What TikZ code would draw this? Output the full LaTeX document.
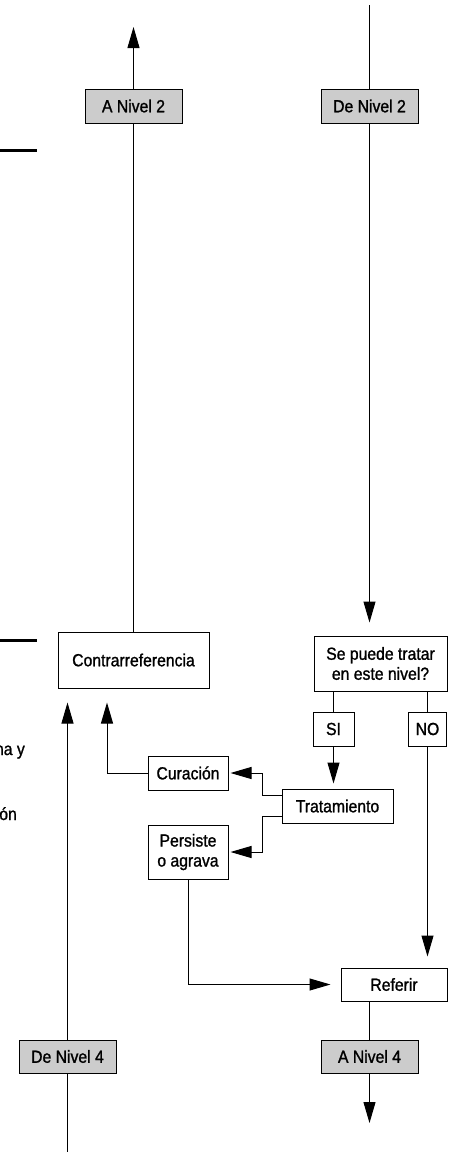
\documentclass[tikz,border=0pt]{standalone}
\usepackage{fontspec}
\setmainfont{Liberation Sans}[FakeStretch=0.9, FakeBold=1.2]
\usetikzlibrary{arrows.meta}
\tikzset{
  box/.style={draw=black, line width=1pt, fill=white, inner sep=0pt, align=center,
    font=\fontsize{17.5}{20}\selectfont},
  graybox/.style={box, fill=black!20},
  conn/.style={draw=black, line width=1pt},
  arr/.style={conn, -{Triangle[length=21pt,width=12pt]}},
  bar/.style={draw=black, line width=3pt},
  frag/.style={inner sep=0pt, font=\fontsize{17.5}{20}\selectfont}
}
\begin{document}
\begin{tikzpicture}[x=1pt,y=-1pt]
\useasboundingbox (0,0) rectangle (451,1152);
% boxes
\node[graybox, minimum width=97pt, minimum height=34pt] (an2) at (133.5,106) {A Nivel 2};
\node[graybox, minimum width=97pt, minimum height=34pt] (den2) at (369.5,106) {De Nivel 2};
\node[box, minimum width=151pt, minimum height=56pt] (contra) at (133.5,660) {Contrarreferencia};
\node[box, minimum width=133pt, minimum height=55pt] (dec) at (380.5,663.5) {Se puede tratar\\en este nivel?};
\node[box, minimum width=41pt, minimum height=34pt] (si) at (333.5,729) {SI};
\node[box, minimum width=38pt, minimum height=34pt] (no) at (427.5,729) {NO};
\node[box, minimum width=80pt, minimum height=34pt] (cur) at (188,773) {Curación};
\node[box, minimum width=111pt, minimum height=34pt] (trat) at (337.5,806) {Tratamiento};
\node[box, minimum width=80pt, minimum height=54pt] (pers) at (188,852) {Persiste\\o agrava};
\node[box, minimum width=106pt, minimum height=33pt] (ref) at (394,984.5) {Referir};
\node[graybox, minimum width=97pt, minimum height=33pt] (an4) at (369.5,1056.5) {A Nivel 4};
\node[graybox, minimum width=97pt, minimum height=33pt] (den4) at (67.5,1056.5) {De Nivel 4};
% free ends
\coordinate (an2tip) at (133.5,27);
\coordinate (top2) at (369.5,5);
\coordinate (an4tip) at (369.5,1123);
\coordinate (bot4) at (67.5,1152);
% connectors
\draw[conn] (contra.north) -- (an2.south);
\draw[arr] (an2.north) -- (an2tip);
\draw[conn] (top2) -- (den2.north);
\draw[arr, shorten >=13pt] (den2.south) -- (den2.south |- dec.north);
\draw[conn] (si.north |- dec.south) -- (si.north);
\draw[arr, shorten >=5pt] (si.south) -- (si.south |- trat.north);
\draw[conn] (no.north |- dec.south) -- (no.north);
\draw[arr, shorten >=11pt] (no.south) -- (no.south |- ref.north);
\draw[arr, shorten >=2pt] ([yshift=11pt]trat.west) -- ++(-19,0) |- (cur.east);
\draw[arr, shorten >=2pt] ([yshift=-10pt]trat.west) -- ++(-19,0) |- (pers.east);
\draw[arr, shorten >=14pt] (cur.west) -| ([xshift=-26.5pt]contra.south);
\draw[arr, shorten >=10pt] (pers.south) |- (ref.west);
\draw[conn] (ref.south -| an4.north) -- (an4.north);
\draw[arr] (an4.south) -- (an4tip);
\draw[conn] (bot4) -- (den4.south);
\draw[arr, shorten >=14pt] (den4.north) -- (den4.north |- contra.south);
% side bars and text fragments
\draw[bar] (0,150) -- (37,150);
\draw[bar] (0,640) -- (37,640);
\node[frag, anchor=base east] (frag1) at (25,755) {na y};
\node[frag, anchor=base east] (frag2) at (17,820) {ón};
\end{tikzpicture}
\end{document}
